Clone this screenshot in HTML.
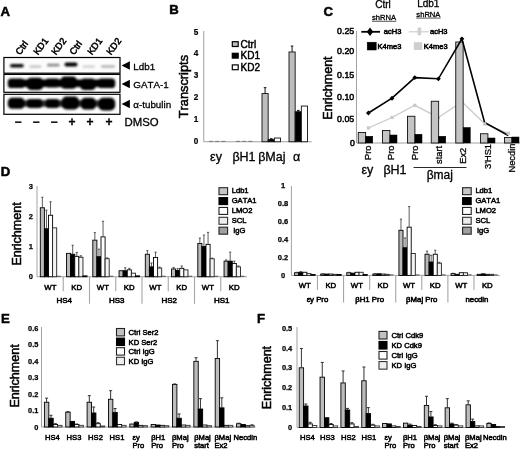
<!DOCTYPE html>
<html lang="en"><head><meta charset="utf-8"><title>Figure</title>
<style>
html,body{margin:0;padding:0;background:#fff;}
body{width:520px;height:449px;overflow:hidden;}
svg{display:block;font-family:"Liberation Sans",sans-serif;font-kerning:none;}
</style></head><body>
<svg width="520" height="449" viewBox="0 0 520 449">
<rect x="0" y="0" width="520" height="449" fill="#fff"/>
<text x="0.40" y="16.20" font-size="13.2" text-anchor="start" font-weight="bold" fill="#000" stroke="#000" stroke-width="0.5">A</text>
<text x="169.30" y="13.70" font-size="13.2" text-anchor="start" font-weight="bold" fill="#000" stroke="#000" stroke-width="0.5">B</text>
<text x="323.40" y="16.30" font-size="13.2" text-anchor="start" font-weight="bold" fill="#000" stroke="#000" stroke-width="0.5">C</text>
<text x="0.80" y="175.90" font-size="13.2" text-anchor="start" font-weight="bold" fill="#000" stroke="#000" stroke-width="0.5">D</text>
<text x="1.10" y="322.70" font-size="13.2" text-anchor="start" font-weight="bold" fill="#000" stroke="#000" stroke-width="0.5">E</text>
<text x="257.10" y="322.70" font-size="13.2" text-anchor="start" font-weight="bold" fill="#000" stroke="#000" stroke-width="0.5">F</text>
<defs><filter id="bl" x="-20%" y="-50%" width="140%" height="200%"><feGaussianBlur stdDeviation="1.1"/></filter><filter id="bl2" x="-20%" y="-50%" width="140%" height="200%"><feGaussianBlur stdDeviation="0.9"/></filter></defs>
<rect x="3.90" y="57.50" width="116.10" height="15.70" fill="#fcfcfc" stroke="#000" stroke-width="1.2"/>
<rect x="3.90" y="74.40" width="116.10" height="17.90" fill="#fcfcfc" stroke="#000" stroke-width="1.2"/>
<rect x="3.90" y="94.30" width="116.10" height="20.00" fill="#fcfcfc" stroke="#000" stroke-width="1.2"/>
<g filter="url(#bl)">
<rect x="10" y="64.10" width="13.80" height="3.4" rx="1.7" fill="#000" opacity="0.95"/>
<rect x="29.5" y="65.40" width="11.70" height="2.4" rx="1.2" fill="#000" opacity="0.25"/>
<rect x="47" y="63.80" width="12.50" height="2.8" rx="1.4" fill="#000" opacity="0.45"/>
<rect x="64.5" y="62.40" width="13.00" height="4.0" rx="2.0" fill="#000" opacity="1.0"/>
<rect x="82.5" y="65.40" width="12.50" height="2.4" rx="1.2" fill="#000" opacity="0.18"/>
<rect x="101" y="65.20" width="14.00" height="2.6" rx="1.3" fill="#000" opacity="0.3"/>
</g>
<g filter="url(#bl2)">
<rect x="10" y="79.6" width="103" height="7.4" rx="3" fill="#000"/>
<rect x="7.80" y="78.50" width="16.90" height="9.50" rx="3.61" fill="#000"/>
<rect x="26.40" y="77.80" width="17.20" height="12.20" rx="4.76" fill="#000"/>
<rect x="45.10" y="78.50" width="14.80" height="9.00" rx="3.40" fill="#000"/>
<rect x="60.15" y="76.50" width="17.20" height="12.20" rx="4.76" fill="#000"/>
<rect x="80.00" y="78.50" width="16.00" height="11.50" rx="4.46" fill="#000"/>
<rect x="97.80" y="78.50" width="17.40" height="9.50" rx="3.61" fill="#000"/>
<rect x="10" y="100.3" width="103" height="6.4" rx="3" fill="#000" opacity="0.8"/>
<rect x="7.80" y="97.75" width="16.90" height="11.00" rx="4.25" fill="#000"/>
<rect x="26.70" y="99.00" width="15.80" height="9.00" rx="3.40" fill="#000"/>
<rect x="45.40" y="99.00" width="14.20" height="9.00" rx="3.40" fill="#000"/>
<rect x="61.60" y="96.50" width="17.60" height="13.00" rx="5.10" fill="#000"/>
<rect x="80.80" y="97.70" width="15.20" height="11.80" rx="4.59" fill="#000"/>
<rect x="98.30" y="97.70" width="16.90" height="12.80" rx="5.02" fill="#000"/>
</g>
<text x="19.90" y="55.40" font-size="9.3" text-anchor="start" font-weight="normal" fill="#000" stroke="#000" stroke-width="0.5" transform="rotate(-53 19.90 55.40)">Ctrl</text>
<text x="37.90" y="55.40" font-size="9.3" text-anchor="start" font-weight="normal" fill="#000" stroke="#000" stroke-width="0.5" transform="rotate(-53 37.90 55.40)">KD1</text>
<text x="55.90" y="55.40" font-size="9.3" text-anchor="start" font-weight="normal" fill="#000" stroke="#000" stroke-width="0.5" transform="rotate(-53 55.90 55.40)">KD2</text>
<text x="73.90" y="55.40" font-size="9.3" text-anchor="start" font-weight="normal" fill="#000" stroke="#000" stroke-width="0.5" transform="rotate(-53 73.90 55.40)">Ctrl</text>
<text x="91.90" y="55.40" font-size="9.3" text-anchor="start" font-weight="normal" fill="#000" stroke="#000" stroke-width="0.5" transform="rotate(-53 91.90 55.40)">KD1</text>
<text x="110.90" y="55.40" font-size="9.3" text-anchor="start" font-weight="normal" fill="#000" stroke="#000" stroke-width="0.5" transform="rotate(-53 110.90 55.40)">KD2</text>
<text x="18.00" y="126.00" font-size="12" text-anchor="middle" font-weight="bold" fill="#000" stroke="#000" stroke-width="0.3">−</text>
<text x="36.00" y="126.00" font-size="12" text-anchor="middle" font-weight="bold" fill="#000" stroke="#000" stroke-width="0.3">−</text>
<text x="54.00" y="126.00" font-size="12" text-anchor="middle" font-weight="bold" fill="#000" stroke="#000" stroke-width="0.3">−</text>
<text x="72.00" y="126.00" font-size="12" text-anchor="middle" font-weight="bold" fill="#000" stroke="#000" stroke-width="0.3">+</text>
<text x="90.00" y="126.00" font-size="12" text-anchor="middle" font-weight="bold" fill="#000" stroke="#000" stroke-width="0.3">+</text>
<text x="109.00" y="126.00" font-size="12" text-anchor="middle" font-weight="bold" fill="#000" stroke="#000" stroke-width="0.3">+</text>
<polygon points="121.6,65.5 129.9,61.3 129.9,69.7" fill="#000"/>
<text x="133.30" y="69.60" font-size="9.8" text-anchor="start" font-weight="normal" fill="#000" stroke="#000" stroke-width="0.3">Ldb1</text>
<polygon points="121.6,84 129.9,79.8 129.9,88.2" fill="#000"/>
<text x="133.30" y="88.10" font-size="9.8" text-anchor="start" font-weight="normal" fill="#000" stroke="#000" stroke-width="0.3">GATA-1</text>
<polygon points="121.6,104 129.9,99.8 129.9,108.2" fill="#000"/>
<text x="133.30" y="108.10" font-size="9.8" text-anchor="start" font-weight="normal" fill="#000" stroke="#000" stroke-width="0.3">α-tubulin</text>
<text x="124.50" y="125.60" font-size="11.4" text-anchor="start" font-weight="normal" fill="#000" stroke="#000" stroke-width="0.3">DMSO</text>
<line x1="203.75" y1="31.00" x2="203.75" y2="141.75" stroke="#8a8a8a" stroke-width="0.8"/>
<line x1="203.75" y1="141.75" x2="311.75" y2="141.75" stroke="#8a8a8a" stroke-width="0.8"/>
<text x="198.20" y="143.75" font-size="8.2" text-anchor="end" font-weight="bold" fill="#000" stroke="#000" stroke-width="0.2">0</text>
<text x="198.20" y="121.85" font-size="8.2" text-anchor="end" font-weight="bold" fill="#000" stroke="#000" stroke-width="0.2">1</text>
<text x="198.20" y="99.95" font-size="8.2" text-anchor="end" font-weight="bold" fill="#000" stroke="#000" stroke-width="0.2">2</text>
<text x="198.20" y="78.05" font-size="8.2" text-anchor="end" font-weight="bold" fill="#000" stroke="#000" stroke-width="0.2">3</text>
<text x="198.20" y="56.15" font-size="8.2" text-anchor="end" font-weight="bold" fill="#000" stroke="#000" stroke-width="0.2">4</text>
<text x="198.20" y="34.85" font-size="8.2" text-anchor="end" font-weight="bold" fill="#000" stroke="#000" stroke-width="0.2">5</text>
<text x="187.80" y="86.60" font-size="12.8" text-anchor="middle" font-weight="normal" fill="#000" stroke="#000" stroke-width="0.5" transform="rotate(-90 187.80 86.60)">Transcripts</text>
<line x1="209.00" y1="141.35" x2="213.17" y2="141.35" stroke="#666" stroke-width="0.8"/>
<line x1="215.17" y1="141.35" x2="219.34" y2="141.35" stroke="#666" stroke-width="0.8"/>
<line x1="221.34" y1="141.35" x2="225.51" y2="141.35" stroke="#666" stroke-width="0.8"/>
<line x1="236.00" y1="141.35" x2="240.17" y2="141.35" stroke="#666" stroke-width="0.8"/>
<line x1="242.17" y1="141.35" x2="246.34" y2="141.35" stroke="#666" stroke-width="0.8"/>
<line x1="248.34" y1="141.35" x2="252.51" y2="141.35" stroke="#666" stroke-width="0.8"/>
<rect x="262.00" y="93.57" width="6.17" height="48.18" fill="#bdbdbd" stroke="#111" stroke-width="0.9"/>
<line x1="265.08" y1="87.66" x2="265.08" y2="93.57" stroke="#111" stroke-width="1.0"/>
<line x1="263.78" y1="87.66" x2="266.38" y2="87.66" stroke="#111" stroke-width="1.0"/>
<rect x="268.17" y="139.56" width="6.17" height="2.19" fill="#000" stroke="#111" stroke-width="0.9"/>
<line x1="271.25" y1="138.68" x2="271.25" y2="139.56" stroke="#111" stroke-width="1.0"/>
<line x1="269.95" y1="138.68" x2="272.56" y2="138.68" stroke="#111" stroke-width="1.0"/>
<rect x="274.34" y="138.03" width="6.17" height="3.72" fill="#fff" stroke="#111" stroke-width="0.9"/>
<rect x="289.00" y="51.96" width="6.17" height="89.79" fill="#bdbdbd" stroke="#111" stroke-width="0.9"/>
<line x1="292.08" y1="46.05" x2="292.08" y2="51.96" stroke="#111" stroke-width="1.0"/>
<line x1="290.78" y1="46.05" x2="293.38" y2="46.05" stroke="#111" stroke-width="1.0"/>
<rect x="295.17" y="111.75" width="6.17" height="30.00" fill="#000" stroke="#111" stroke-width="0.9"/>
<line x1="298.25" y1="110.43" x2="298.25" y2="111.75" stroke="#111" stroke-width="1.0"/>
<line x1="296.95" y1="110.43" x2="299.56" y2="110.43" stroke="#111" stroke-width="1.0"/>
<rect x="301.34" y="106.05" width="6.17" height="35.70" fill="#fff" stroke="#111" stroke-width="0.9"/>
<text x="216.00" y="161.30" font-size="12.5" text-anchor="middle" font-weight="normal" fill="#000" stroke="#000" stroke-width="0.3">εy</text>
<text x="244.00" y="161.30" font-size="12.5" text-anchor="middle" font-weight="normal" fill="#000" stroke="#000" stroke-width="0.3">βH1</text>
<text x="271.80" y="161.30" font-size="12.5" text-anchor="middle" font-weight="normal" fill="#000" stroke="#000" stroke-width="0.3">βMaj</text>
<text x="296.50" y="161.30" font-size="12.5" text-anchor="middle" font-weight="normal" fill="#000" stroke="#000" stroke-width="0.3">α</text>
<rect x="232.30" y="41.70" width="5.90" height="4.80" fill="#bdbdbd" stroke="#000" stroke-width="1.2"/>
<text x="240.60" y="47.60" font-size="10" text-anchor="start" font-weight="normal" fill="#000" stroke="#000" stroke-width="0.45">Ctrl</text>
<rect x="232.30" y="53.30" width="5.90" height="4.80" fill="#000" stroke="#000" stroke-width="1.2"/>
<text x="240.60" y="59.20" font-size="10" text-anchor="start" font-weight="normal" fill="#000" stroke="#000" stroke-width="0.45">KD1</text>
<rect x="232.30" y="64.90" width="5.90" height="4.80" fill="#fff" stroke="#000" stroke-width="1.2"/>
<text x="240.60" y="70.80" font-size="10" text-anchor="start" font-weight="normal" fill="#000" stroke="#000" stroke-width="0.45">KD2</text>
<line x1="356.50" y1="31.00" x2="356.50" y2="143.00" stroke="#8a8a8a" stroke-width="0.8"/>
<line x1="356.50" y1="143.00" x2="520.00" y2="143.00" stroke="#8a8a8a" stroke-width="0.8"/>
<text x="355.00" y="145.60" font-size="8.8" text-anchor="end" font-weight="normal" fill="#000" stroke="#000" stroke-width="0.5">0</text>
<text x="354.20" y="121.60" font-size="8.8" text-anchor="end" font-weight="normal" fill="#000" stroke="#000" stroke-width="0.5">0.05</text>
<text x="354.20" y="100.25" font-size="8.8" text-anchor="end" font-weight="normal" fill="#000" stroke="#000" stroke-width="0.5">0.10</text>
<text x="354.20" y="78.40" font-size="8.8" text-anchor="end" font-weight="normal" fill="#000" stroke="#000" stroke-width="0.5">0.15</text>
<text x="354.20" y="54.40" font-size="8.8" text-anchor="end" font-weight="normal" fill="#000" stroke="#000" stroke-width="0.5">0.20</text>
<text x="354.20" y="33.60" font-size="8.8" text-anchor="end" font-weight="normal" fill="#000" stroke="#000" stroke-width="0.5">0.25</text>
<text x="332.00" y="88.00" font-size="12.5" text-anchor="middle" font-weight="normal" fill="#000" stroke="#000" stroke-width="0.5" transform="rotate(-90 332.00 88.00)">Enrichment</text>
<polyline points="368.4,128.0 392.0,117.5 414.8,105.3 438.4,117.5 461.9,101.8 484.6,123.8 508.3,133.3" fill="none" stroke="#c9c9c9" stroke-width="1.3"/>
<rect x="366.8" y="126.4" width="3.2" height="3.2" fill="#c9c9c9"/>
<rect x="390.4" y="115.9" width="3.2" height="3.2" fill="#c9c9c9"/>
<rect x="413.2" y="103.7" width="3.2" height="3.2" fill="#c9c9c9"/>
<rect x="436.8" y="115.9" width="3.2" height="3.2" fill="#c9c9c9"/>
<rect x="460.3" y="100.2" width="3.2" height="3.2" fill="#c9c9c9"/>
<rect x="483.0" y="122.2" width="3.2" height="3.2" fill="#c9c9c9"/>
<rect x="506.7" y="131.7" width="3.2" height="3.2" fill="#c9c9c9"/>
<rect x="358.25" y="132.50" width="7.40" height="10.50" fill="#c4c4c4" stroke="#111" stroke-width="0.9"/>
<rect x="365.65" y="136.25" width="7.10" height="6.75" fill="#000" stroke="#000" stroke-width="0.5"/>
<rect x="382.50" y="130.50" width="7.40" height="12.50" fill="#c4c4c4" stroke="#111" stroke-width="0.9"/>
<rect x="389.90" y="135.00" width="7.10" height="8.00" fill="#000" stroke="#000" stroke-width="0.5"/>
<rect x="407.50" y="116.25" width="7.40" height="26.75" fill="#c4c4c4" stroke="#111" stroke-width="0.9"/>
<rect x="414.90" y="134.25" width="7.10" height="8.75" fill="#000" stroke="#000" stroke-width="0.5"/>
<rect x="431.25" y="101.25" width="7.40" height="41.75" fill="#c4c4c4" stroke="#111" stroke-width="0.9"/>
<rect x="438.65" y="136.25" width="7.10" height="6.75" fill="#000" stroke="#000" stroke-width="0.5"/>
<rect x="455.75" y="42.00" width="7.40" height="101.00" fill="#c4c4c4" stroke="#111" stroke-width="0.9"/>
<rect x="463.15" y="127.50" width="7.10" height="15.50" fill="#000" stroke="#000" stroke-width="0.5"/>
<rect x="480.50" y="133.75" width="7.40" height="9.25" fill="#c4c4c4" stroke="#111" stroke-width="0.9"/>
<rect x="487.90" y="138.00" width="7.10" height="5.00" fill="#000" stroke="#000" stroke-width="0.5"/>
<rect x="504.50" y="137.50" width="7.40" height="5.50" fill="#c4c4c4" stroke="#111" stroke-width="0.9"/>
<rect x="511.90" y="137.00" width="7.10" height="6.00" fill="#000" stroke="#000" stroke-width="0.5"/>
<polyline points="368.4,113.0 392.0,98.2 414.8,77.6 438.4,78.8 461.9,38.8 484.6,122.5 508.3,135.5" fill="none" stroke="#000" stroke-width="1.6"/>
<polygon points="366.0,113.0 368.4,110.6 370.8,113.0 368.4,115.4" fill="#000"/>
<polygon points="389.6,98.2 392.0,95.8 394.4,98.2 392.0,100.7" fill="#000"/>
<polygon points="412.4,77.6 414.8,75.2 417.2,77.6 414.8,80.0" fill="#000"/>
<polygon points="436.0,78.8 438.4,76.4 440.8,78.8 438.4,81.2" fill="#000"/>
<polygon points="459.5,38.8 461.9,36.4 464.3,38.8 461.9,41.2" fill="#000"/>
<rect x="483.0" y="122.2" width="3.2" height="3.2" fill="#c9c9c9"/>
<rect x="506.7" y="131.7" width="3.2" height="3.2" fill="#c9c9c9"/>
<text x="371.30" y="160.00" font-size="9.3" text-anchor="start" font-weight="normal" fill="#000" stroke="#000" stroke-width="0.3" transform="rotate(-90 371.30 160.00)">Pro</text>
<text x="394.20" y="160.00" font-size="9.3" text-anchor="start" font-weight="normal" fill="#000" stroke="#000" stroke-width="0.3" transform="rotate(-90 394.20 160.00)">Pro</text>
<text x="417.80" y="160.00" font-size="9.3" text-anchor="start" font-weight="normal" fill="#000" stroke="#000" stroke-width="0.3" transform="rotate(-90 417.80 160.00)">Pro</text>
<text x="442.20" y="164.00" font-size="9.3" text-anchor="start" font-weight="normal" fill="#000" stroke="#000" stroke-width="0.3" transform="rotate(-90 442.20 164.00)">start</text>
<text x="466.00" y="163.80" font-size="9.3" text-anchor="start" font-weight="normal" fill="#000" stroke="#000" stroke-width="0.3" transform="rotate(-90 466.00 163.80)">Ex2</text>
<text x="490.70" y="169.00" font-size="9.3" text-anchor="start" font-weight="normal" fill="#000" stroke="#000" stroke-width="0.3" transform="rotate(-90 490.70 169.00)">3'HS1</text>
<text x="514.70" y="172.50" font-size="9.3" text-anchor="start" font-weight="normal" fill="#000" stroke="#000" stroke-width="0.3" transform="rotate(-90 514.70 172.50)">Necdin</text>
<text x="367.30" y="174.00" font-size="12.5" text-anchor="middle" font-weight="normal" fill="#000" stroke="#000" stroke-width="0.3">εy</text>
<text x="395.00" y="174.00" font-size="12.5" text-anchor="middle" font-weight="normal" fill="#000" stroke="#000" stroke-width="0.3">βH1</text>
<line x1="413.50" y1="167.50" x2="466.50" y2="167.50" stroke="#111" stroke-width="0.9"/>
<text x="439.80" y="179.00" font-size="12" text-anchor="middle" font-weight="normal" fill="#000" stroke="#000" stroke-width="0.3">βmaj</text>
<text x="383.00" y="7.60" font-size="10" text-anchor="middle" font-weight="normal" fill="#000" stroke="#000" stroke-width="0.3">Ctrl</text>
<text x="428.30" y="7.30" font-size="10" text-anchor="middle" font-weight="normal" fill="#000" stroke="#000" stroke-width="0.3">Ldb1</text>
<text x="384.00" y="20.00" font-size="7.6" text-anchor="middle" font-weight="normal" fill="#000" stroke="#000" stroke-width="0.3">shRNA</text>
<line x1="372.00" y1="21.30" x2="396.30" y2="21.30" stroke="#111" stroke-width="0.7"/>
<text x="428.40" y="16.80" font-size="7.6" text-anchor="middle" font-weight="normal" fill="#000" stroke="#000" stroke-width="0.3">shRNA</text>
<line x1="416.20" y1="18.10" x2="440.60" y2="18.10" stroke="#111" stroke-width="0.7"/>
<line x1="361.30" y1="31.80" x2="380.00" y2="31.80" stroke="#000" stroke-width="1.8"/>
<polygon points="366.8,31.8 370,27.6 373.2,31.8 370,36" fill="#000"/>
<text x="383.80" y="34.40" font-size="7.5" text-anchor="start" font-weight="normal" fill="#000" stroke="#000" stroke-width="0.55">acH3</text>
<rect x="367.20" y="42.20" width="9.00" height="7.80" fill="#000" stroke="#000" stroke-width="0.5"/>
<text x="377.60" y="49.00" font-size="7.5" text-anchor="start" font-weight="normal" fill="#000" stroke="#000" stroke-width="0.55">K4me3</text>
<line x1="408.80" y1="31.80" x2="428.80" y2="31.80" stroke="#cfcfcf" stroke-width="1.2"/>
<rect x="417.6" y="27.6" width="3.6" height="7.6" fill="#cfcfcf"/>
<text x="430.00" y="34.40" font-size="7.5" text-anchor="start" font-weight="normal" fill="#000" stroke="#000" stroke-width="0.55">acH3</text>
<rect x="413.8" y="42.2" width="8.4" height="7.8" fill="#cfcfcf"/>
<text x="423.80" y="49.00" font-size="7.5" text-anchor="start" font-weight="normal" fill="#000" stroke="#000" stroke-width="0.55">K4me3</text>
<line x1="37.00" y1="186.00" x2="37.00" y2="276.75" stroke="#8a8a8a" stroke-width="0.8"/>
<line x1="37.00" y1="276.75" x2="247.00" y2="276.75" stroke="#8a8a8a" stroke-width="0.8"/>
<text x="33.00" y="279.25" font-size="7.5" text-anchor="end" font-weight="bold" fill="#000" stroke="#000" stroke-width="0.25">0</text>
<text x="33.00" y="249.25" font-size="7.5" text-anchor="end" font-weight="bold" fill="#000" stroke="#000" stroke-width="0.25">1</text>
<text x="33.00" y="219.25" font-size="7.5" text-anchor="end" font-weight="bold" fill="#000" stroke="#000" stroke-width="0.25">2</text>
<text x="33.00" y="189.25" font-size="7.5" text-anchor="end" font-weight="bold" fill="#000" stroke="#000" stroke-width="0.25">3</text>
<text x="20.70" y="234.00" font-size="12.5" text-anchor="middle" font-weight="normal" fill="#000" stroke="#000" stroke-width="0.5" transform="rotate(-90 20.70 234.00)">Enrichment</text>
<rect x="40.30" y="207.75" width="4.10" height="69.00" fill="#b9b9b9" stroke="#000" stroke-width="0.9"/>
<line x1="42.35" y1="197.25" x2="42.35" y2="207.75" stroke="#333" stroke-width="0.8"/>
<line x1="41.25" y1="197.25" x2="43.45" y2="197.25" stroke="#333" stroke-width="0.8"/>
<rect x="44.40" y="228.75" width="4.10" height="48.00" fill="#000" stroke="#000" stroke-width="0.9"/>
<line x1="46.45" y1="210.15" x2="46.45" y2="228.75" stroke="#333" stroke-width="0.8"/>
<line x1="45.35" y1="210.15" x2="47.55" y2="210.15" stroke="#333" stroke-width="0.8"/>
<rect x="48.50" y="215.25" width="4.10" height="61.50" fill="#fff" stroke="#000" stroke-width="0.9"/>
<line x1="50.55" y1="201.75" x2="50.55" y2="215.25" stroke="#333" stroke-width="0.8"/>
<line x1="49.45" y1="201.75" x2="51.65" y2="201.75" stroke="#333" stroke-width="0.8"/>
<rect x="52.60" y="227.85" width="4.10" height="48.90" fill="#f4f4f4" stroke="#222" stroke-width="0.9"/>
<line x1="56.70" y1="276.25" x2="60.80" y2="276.25" stroke="#444" stroke-width="0.9"/>
<rect x="66.55" y="253.35" width="4.10" height="23.40" fill="#b9b9b9" stroke="#000" stroke-width="0.9"/>
<rect x="70.65" y="254.25" width="4.10" height="22.50" fill="#000" stroke="#000" stroke-width="0.9"/>
<line x1="72.70" y1="245.25" x2="72.70" y2="254.25" stroke="#333" stroke-width="0.8"/>
<line x1="71.60" y1="245.25" x2="73.80" y2="245.25" stroke="#333" stroke-width="0.8"/>
<rect x="74.75" y="256.35" width="4.10" height="20.40" fill="#fff" stroke="#000" stroke-width="0.9"/>
<line x1="76.80" y1="252.45" x2="76.80" y2="256.35" stroke="#333" stroke-width="0.8"/>
<line x1="75.70" y1="252.45" x2="77.90" y2="252.45" stroke="#333" stroke-width="0.8"/>
<rect x="78.85" y="257.25" width="4.10" height="19.50" fill="#f4f4f4" stroke="#222" stroke-width="0.9"/>
<line x1="80.90" y1="255.75" x2="80.90" y2="257.25" stroke="#333" stroke-width="0.8"/>
<line x1="79.80" y1="255.75" x2="82.00" y2="255.75" stroke="#333" stroke-width="0.8"/>
<rect x="82.95" y="275.85" width="4.10" height="0.90" fill="#9a9a9a" stroke="#000" stroke-width="0.9"/>
<rect x="92.80" y="240.15" width="4.10" height="36.60" fill="#b9b9b9" stroke="#000" stroke-width="0.9"/>
<line x1="94.85" y1="232.65" x2="94.85" y2="240.15" stroke="#333" stroke-width="0.8"/>
<line x1="93.75" y1="232.65" x2="95.95" y2="232.65" stroke="#333" stroke-width="0.8"/>
<rect x="96.90" y="256.65" width="4.10" height="20.10" fill="#000" stroke="#000" stroke-width="0.9"/>
<line x1="98.95" y1="249.15" x2="98.95" y2="256.65" stroke="#333" stroke-width="0.8"/>
<line x1="97.85" y1="249.15" x2="100.05" y2="249.15" stroke="#333" stroke-width="0.8"/>
<rect x="101.00" y="236.85" width="4.10" height="39.90" fill="#fff" stroke="#000" stroke-width="0.9"/>
<line x1="103.05" y1="221.25" x2="103.05" y2="236.85" stroke="#333" stroke-width="0.8"/>
<line x1="101.95" y1="221.25" x2="104.15" y2="221.25" stroke="#333" stroke-width="0.8"/>
<rect x="105.10" y="258.75" width="4.10" height="18.00" fill="#f4f4f4" stroke="#222" stroke-width="0.9"/>
<line x1="107.15" y1="257.85" x2="107.15" y2="258.75" stroke="#333" stroke-width="0.8"/>
<line x1="106.05" y1="257.85" x2="108.25" y2="257.85" stroke="#333" stroke-width="0.8"/>
<line x1="109.20" y1="276.25" x2="113.30" y2="276.25" stroke="#444" stroke-width="0.9"/>
<rect x="119.05" y="270.75" width="4.10" height="6.00" fill="#b9b9b9" stroke="#000" stroke-width="0.9"/>
<rect x="123.15" y="270.75" width="4.10" height="6.00" fill="#000" stroke="#000" stroke-width="0.9"/>
<line x1="125.20" y1="267.75" x2="125.20" y2="270.75" stroke="#333" stroke-width="0.8"/>
<line x1="124.10" y1="267.75" x2="126.30" y2="267.75" stroke="#333" stroke-width="0.8"/>
<rect x="127.25" y="269.85" width="4.10" height="6.90" fill="#fff" stroke="#000" stroke-width="0.9"/>
<line x1="129.30" y1="268.35" x2="129.30" y2="269.85" stroke="#333" stroke-width="0.8"/>
<line x1="128.20" y1="268.35" x2="130.40" y2="268.35" stroke="#333" stroke-width="0.8"/>
<rect x="131.35" y="273.15" width="4.10" height="3.60" fill="#f4f4f4" stroke="#222" stroke-width="0.9"/>
<rect x="135.45" y="275.85" width="4.10" height="0.90" fill="#9a9a9a" stroke="#000" stroke-width="0.9"/>
<rect x="145.30" y="254.25" width="4.10" height="22.50" fill="#b9b9b9" stroke="#000" stroke-width="0.9"/>
<line x1="147.35" y1="250.65" x2="147.35" y2="254.25" stroke="#333" stroke-width="0.8"/>
<line x1="146.25" y1="250.65" x2="148.45" y2="250.65" stroke="#333" stroke-width="0.8"/>
<rect x="149.40" y="266.85" width="4.10" height="9.90" fill="#000" stroke="#000" stroke-width="0.9"/>
<line x1="151.45" y1="262.95" x2="151.45" y2="266.85" stroke="#333" stroke-width="0.8"/>
<line x1="150.35" y1="262.95" x2="152.55" y2="262.95" stroke="#333" stroke-width="0.8"/>
<rect x="153.50" y="257.55" width="4.10" height="19.20" fill="#fff" stroke="#000" stroke-width="0.9"/>
<line x1="155.55" y1="252.15" x2="155.55" y2="257.55" stroke="#333" stroke-width="0.8"/>
<line x1="154.45" y1="252.15" x2="156.65" y2="252.15" stroke="#333" stroke-width="0.8"/>
<rect x="157.60" y="268.05" width="4.10" height="8.70" fill="#f4f4f4" stroke="#222" stroke-width="0.9"/>
<line x1="159.65" y1="267.15" x2="159.65" y2="268.05" stroke="#333" stroke-width="0.8"/>
<line x1="158.55" y1="267.15" x2="160.75" y2="267.15" stroke="#333" stroke-width="0.8"/>
<line x1="161.70" y1="276.25" x2="165.80" y2="276.25" stroke="#444" stroke-width="0.9"/>
<rect x="171.55" y="268.95" width="4.10" height="7.80" fill="#b9b9b9" stroke="#000" stroke-width="0.9"/>
<line x1="173.60" y1="267.45" x2="173.60" y2="268.95" stroke="#333" stroke-width="0.8"/>
<line x1="172.50" y1="267.45" x2="174.70" y2="267.45" stroke="#333" stroke-width="0.8"/>
<rect x="175.65" y="270.45" width="4.10" height="6.30" fill="#000" stroke="#000" stroke-width="0.9"/>
<line x1="177.70" y1="268.65" x2="177.70" y2="270.45" stroke="#333" stroke-width="0.8"/>
<line x1="176.60" y1="268.65" x2="178.80" y2="268.65" stroke="#333" stroke-width="0.8"/>
<rect x="179.75" y="268.35" width="4.10" height="8.40" fill="#fff" stroke="#000" stroke-width="0.9"/>
<line x1="181.80" y1="265.95" x2="181.80" y2="268.35" stroke="#333" stroke-width="0.8"/>
<line x1="180.70" y1="265.95" x2="182.90" y2="265.95" stroke="#333" stroke-width="0.8"/>
<rect x="183.85" y="269.85" width="4.10" height="6.90" fill="#f4f4f4" stroke="#222" stroke-width="0.9"/>
<line x1="187.95" y1="276.25" x2="192.05" y2="276.25" stroke="#444" stroke-width="0.9"/>
<rect x="197.80" y="243.45" width="4.10" height="33.30" fill="#b9b9b9" stroke="#000" stroke-width="0.9"/>
<line x1="199.85" y1="238.05" x2="199.85" y2="243.45" stroke="#333" stroke-width="0.8"/>
<line x1="198.75" y1="238.05" x2="200.95" y2="238.05" stroke="#333" stroke-width="0.8"/>
<rect x="201.90" y="246.45" width="4.10" height="30.30" fill="#000" stroke="#000" stroke-width="0.9"/>
<line x1="203.95" y1="235.05" x2="203.95" y2="246.45" stroke="#333" stroke-width="0.8"/>
<line x1="202.85" y1="235.05" x2="205.05" y2="235.05" stroke="#333" stroke-width="0.8"/>
<rect x="206.00" y="244.35" width="4.10" height="32.40" fill="#fff" stroke="#000" stroke-width="0.9"/>
<line x1="208.05" y1="232.35" x2="208.05" y2="244.35" stroke="#333" stroke-width="0.8"/>
<line x1="206.95" y1="232.35" x2="209.15" y2="232.35" stroke="#333" stroke-width="0.8"/>
<rect x="210.10" y="258.75" width="4.10" height="18.00" fill="#f4f4f4" stroke="#222" stroke-width="0.9"/>
<line x1="212.15" y1="258.15" x2="212.15" y2="258.75" stroke="#333" stroke-width="0.8"/>
<line x1="211.05" y1="258.15" x2="213.25" y2="258.15" stroke="#333" stroke-width="0.8"/>
<line x1="214.20" y1="276.25" x2="218.30" y2="276.25" stroke="#444" stroke-width="0.9"/>
<rect x="224.05" y="261.15" width="4.10" height="15.60" fill="#b9b9b9" stroke="#000" stroke-width="0.9"/>
<line x1="226.10" y1="259.95" x2="226.10" y2="261.15" stroke="#333" stroke-width="0.8"/>
<line x1="225.00" y1="259.95" x2="227.20" y2="259.95" stroke="#333" stroke-width="0.8"/>
<rect x="228.15" y="261.15" width="4.10" height="15.60" fill="#000" stroke="#000" stroke-width="0.9"/>
<line x1="230.20" y1="252.15" x2="230.20" y2="261.15" stroke="#333" stroke-width="0.8"/>
<line x1="229.10" y1="252.15" x2="231.30" y2="252.15" stroke="#333" stroke-width="0.8"/>
<rect x="232.25" y="263.55" width="4.10" height="13.20" fill="#fff" stroke="#000" stroke-width="0.9"/>
<line x1="234.30" y1="261.15" x2="234.30" y2="263.55" stroke="#333" stroke-width="0.8"/>
<line x1="233.20" y1="261.15" x2="235.40" y2="261.15" stroke="#333" stroke-width="0.8"/>
<rect x="236.35" y="266.85" width="4.10" height="9.90" fill="#f4f4f4" stroke="#222" stroke-width="0.9"/>
<line x1="238.40" y1="265.95" x2="238.40" y2="266.85" stroke="#333" stroke-width="0.8"/>
<line x1="237.30" y1="265.95" x2="239.50" y2="265.95" stroke="#333" stroke-width="0.8"/>
<line x1="240.45" y1="276.25" x2="244.55" y2="276.25" stroke="#444" stroke-width="0.9"/>
<line x1="63.25" y1="276.75" x2="63.25" y2="291.30" stroke="#a6a6a6" stroke-width="1.1"/>
<line x1="89.50" y1="276.75" x2="89.50" y2="303.80" stroke="#a6a6a6" stroke-width="1.1"/>
<line x1="115.75" y1="276.75" x2="115.75" y2="291.30" stroke="#a6a6a6" stroke-width="1.1"/>
<line x1="142.00" y1="276.75" x2="142.00" y2="303.80" stroke="#a6a6a6" stroke-width="1.1"/>
<line x1="168.25" y1="276.75" x2="168.25" y2="291.30" stroke="#a6a6a6" stroke-width="1.1"/>
<line x1="194.50" y1="276.75" x2="194.50" y2="303.80" stroke="#a6a6a6" stroke-width="1.1"/>
<line x1="220.75" y1="276.75" x2="220.75" y2="291.30" stroke="#a6a6a6" stroke-width="1.1"/>
<text x="50.42" y="290.00" font-size="7.8" text-anchor="middle" font-weight="normal" fill="#000" stroke="#000" stroke-width="0.5">WT</text>
<text x="76.67" y="290.00" font-size="7.8" text-anchor="middle" font-weight="normal" fill="#000" stroke="#000" stroke-width="0.5">KD</text>
<text x="102.92" y="290.00" font-size="7.8" text-anchor="middle" font-weight="normal" fill="#000" stroke="#000" stroke-width="0.5">WT</text>
<text x="129.18" y="290.00" font-size="7.8" text-anchor="middle" font-weight="normal" fill="#000" stroke="#000" stroke-width="0.5">KD</text>
<text x="155.43" y="290.00" font-size="7.8" text-anchor="middle" font-weight="normal" fill="#000" stroke="#000" stroke-width="0.5">WT</text>
<text x="181.68" y="290.00" font-size="7.8" text-anchor="middle" font-weight="normal" fill="#000" stroke="#000" stroke-width="0.5">KD</text>
<text x="207.93" y="290.00" font-size="7.8" text-anchor="middle" font-weight="normal" fill="#000" stroke="#000" stroke-width="0.5">WT</text>
<text x="234.18" y="290.00" font-size="7.8" text-anchor="middle" font-weight="normal" fill="#000" stroke="#000" stroke-width="0.5">KD</text>
<text x="64.25" y="303.00" font-size="8" text-anchor="middle" font-weight="normal" fill="#000" stroke="#000" stroke-width="0.55">HS4</text>
<text x="116.75" y="303.00" font-size="8" text-anchor="middle" font-weight="normal" fill="#000" stroke="#000" stroke-width="0.55">HS3</text>
<text x="169.25" y="303.00" font-size="8" text-anchor="middle" font-weight="normal" fill="#000" stroke="#000" stroke-width="0.55">HS2</text>
<text x="221.75" y="303.00" font-size="8" text-anchor="middle" font-weight="normal" fill="#000" stroke="#000" stroke-width="0.55">HS1</text>
<rect x="219.00" y="187.70" width="8.60" height="7.00" fill="#c6c6c6" stroke="#222" stroke-width="1.1"/>
<text x="231.70" y="193.30" font-size="7.6" text-anchor="start" font-weight="normal" fill="#000" stroke="#000" stroke-width="0.5">Ldb1</text>
<rect x="219.00" y="197.57" width="8.60" height="7.00" fill="#000" stroke="#000" stroke-width="1.1"/>
<text x="231.70" y="203.30" font-size="7.6" text-anchor="start" font-weight="normal" fill="#000" stroke="#000" stroke-width="0.5">GATA1</text>
<rect x="219.00" y="207.44" width="8.60" height="7.00" fill="#fff" stroke="#222" stroke-width="1.1"/>
<text x="231.70" y="213.30" font-size="7.6" text-anchor="start" font-weight="normal" fill="#000" stroke="#000" stroke-width="0.5">LMO2</text>
<rect x="219.00" y="217.31" width="8.60" height="7.00" fill="#ececec" stroke="#333" stroke-width="1.1"/>
<text x="231.70" y="223.30" font-size="7.6" text-anchor="start" font-weight="normal" fill="#000" stroke="#000" stroke-width="0.5">SCL</text>
<rect x="219.00" y="227.18" width="8.60" height="7.00" fill="#a0a0a0" stroke="#222" stroke-width="1.1"/>
<text x="233.20" y="233.30" font-size="7.6" text-anchor="start" font-weight="normal" fill="#000" stroke="#000" stroke-width="0.5">IgG</text>
<line x1="291.40" y1="186.00" x2="291.40" y2="275.40" stroke="#8a8a8a" stroke-width="0.8"/>
<line x1="291.40" y1="275.40" x2="500.00" y2="275.40" stroke="#8a8a8a" stroke-width="0.8"/>
<text x="283.00" y="277.70" font-size="7.5" text-anchor="middle" font-weight="bold" fill="#000" stroke="#000" stroke-width="0.25">0</text>
<text x="283.00" y="259.84" font-size="7.5" text-anchor="middle" font-weight="bold" fill="#000" stroke="#000" stroke-width="0.25">0.2</text>
<text x="283.00" y="241.98" font-size="7.5" text-anchor="middle" font-weight="bold" fill="#000" stroke="#000" stroke-width="0.25">0.4</text>
<text x="283.00" y="224.12" font-size="7.5" text-anchor="middle" font-weight="bold" fill="#000" stroke="#000" stroke-width="0.25">0.6</text>
<text x="283.00" y="206.26" font-size="7.5" text-anchor="middle" font-weight="bold" fill="#000" stroke="#000" stroke-width="0.25">0.8</text>
<text x="283.00" y="188.40" font-size="7.5" text-anchor="middle" font-weight="bold" fill="#000" stroke="#000" stroke-width="0.25">1</text>
<rect x="294.60" y="272.72" width="4.10" height="2.68" fill="#b9b9b9" stroke="#000" stroke-width="0.9"/>
<line x1="296.65" y1="272.27" x2="296.65" y2="272.72" stroke="#333" stroke-width="0.8"/>
<line x1="295.55" y1="272.27" x2="297.75" y2="272.27" stroke="#333" stroke-width="0.8"/>
<rect x="298.70" y="272.27" width="4.10" height="3.13" fill="#000" stroke="#000" stroke-width="0.9"/>
<line x1="300.75" y1="271.56" x2="300.75" y2="272.27" stroke="#333" stroke-width="0.8"/>
<line x1="299.65" y1="271.56" x2="301.85" y2="271.56" stroke="#333" stroke-width="0.8"/>
<rect x="302.80" y="272.27" width="4.10" height="3.13" fill="#fff" stroke="#000" stroke-width="0.9"/>
<rect x="306.90" y="273.61" width="4.10" height="1.79" fill="#f4f4f4" stroke="#222" stroke-width="0.9"/>
<rect x="311.00" y="274.51" width="4.10" height="0.89" fill="#9a9a9a" stroke="#000" stroke-width="0.9"/>
<rect x="320.68" y="274.06" width="4.10" height="1.34" fill="#b9b9b9" stroke="#000" stroke-width="0.9"/>
<line x1="322.73" y1="273.70" x2="322.73" y2="274.06" stroke="#333" stroke-width="0.8"/>
<line x1="321.63" y1="273.70" x2="323.83" y2="273.70" stroke="#333" stroke-width="0.8"/>
<rect x="324.78" y="274.06" width="4.10" height="1.34" fill="#000" stroke="#000" stroke-width="0.9"/>
<rect x="328.88" y="274.06" width="4.10" height="1.34" fill="#fff" stroke="#000" stroke-width="0.9"/>
<rect x="332.98" y="274.33" width="4.10" height="1.07" fill="#f4f4f4" stroke="#222" stroke-width="0.9"/>
<rect x="337.08" y="274.51" width="4.10" height="0.89" fill="#9a9a9a" stroke="#000" stroke-width="0.9"/>
<rect x="346.76" y="272.72" width="4.10" height="2.68" fill="#b9b9b9" stroke="#000" stroke-width="0.9"/>
<line x1="348.81" y1="272.27" x2="348.81" y2="272.72" stroke="#333" stroke-width="0.8"/>
<line x1="347.71" y1="272.27" x2="349.91" y2="272.27" stroke="#333" stroke-width="0.8"/>
<rect x="350.86" y="273.17" width="4.10" height="2.23" fill="#000" stroke="#000" stroke-width="0.9"/>
<rect x="354.96" y="272.27" width="4.10" height="3.13" fill="#fff" stroke="#000" stroke-width="0.9"/>
<rect x="359.06" y="272.27" width="4.10" height="3.13" fill="#f4f4f4" stroke="#222" stroke-width="0.9"/>
<rect x="363.16" y="274.51" width="4.10" height="0.89" fill="#9a9a9a" stroke="#000" stroke-width="0.9"/>
<rect x="372.84" y="274.06" width="4.10" height="1.34" fill="#b9b9b9" stroke="#000" stroke-width="0.9"/>
<line x1="374.89" y1="273.52" x2="374.89" y2="274.06" stroke="#333" stroke-width="0.8"/>
<line x1="373.79" y1="273.52" x2="375.99" y2="273.52" stroke="#333" stroke-width="0.8"/>
<rect x="376.94" y="273.79" width="4.10" height="1.61" fill="#000" stroke="#000" stroke-width="0.9"/>
<rect x="381.04" y="274.06" width="4.10" height="1.34" fill="#fff" stroke="#000" stroke-width="0.9"/>
<rect x="385.14" y="274.33" width="4.10" height="1.07" fill="#f4f4f4" stroke="#222" stroke-width="0.9"/>
<line x1="389.24" y1="274.90" x2="393.34" y2="274.90" stroke="#444" stroke-width="0.9"/>
<rect x="398.92" y="230.30" width="4.10" height="45.10" fill="#b9b9b9" stroke="#000" stroke-width="0.9"/>
<line x1="400.97" y1="219.14" x2="400.97" y2="230.30" stroke="#333" stroke-width="0.8"/>
<line x1="399.87" y1="219.14" x2="402.07" y2="219.14" stroke="#333" stroke-width="0.8"/>
<rect x="403.02" y="247.72" width="4.10" height="27.68" fill="#000" stroke="#000" stroke-width="0.9"/>
<line x1="405.07" y1="237.89" x2="405.07" y2="247.72" stroke="#333" stroke-width="0.8"/>
<line x1="403.97" y1="237.89" x2="406.17" y2="237.89" stroke="#333" stroke-width="0.8"/>
<rect x="407.12" y="227.18" width="4.10" height="48.22" fill="#fff" stroke="#000" stroke-width="0.9"/>
<line x1="409.17" y1="206.64" x2="409.17" y2="227.18" stroke="#333" stroke-width="0.8"/>
<line x1="408.07" y1="206.64" x2="410.27" y2="206.64" stroke="#333" stroke-width="0.8"/>
<rect x="411.22" y="253.52" width="4.10" height="21.88" fill="#f4f4f4" stroke="#222" stroke-width="0.9"/>
<line x1="415.32" y1="274.90" x2="419.42" y2="274.90" stroke="#444" stroke-width="0.9"/>
<rect x="425.00" y="254.24" width="4.10" height="21.16" fill="#b9b9b9" stroke="#000" stroke-width="0.9"/>
<line x1="427.05" y1="251.11" x2="427.05" y2="254.24" stroke="#333" stroke-width="0.8"/>
<line x1="425.95" y1="251.11" x2="428.15" y2="251.11" stroke="#333" stroke-width="0.8"/>
<rect x="429.10" y="262.00" width="4.10" height="13.39" fill="#000" stroke="#000" stroke-width="0.9"/>
<line x1="431.15" y1="255.31" x2="431.15" y2="262.00" stroke="#333" stroke-width="0.8"/>
<line x1="430.05" y1="255.31" x2="432.25" y2="255.31" stroke="#333" stroke-width="0.8"/>
<rect x="433.20" y="254.24" width="4.10" height="21.16" fill="#fff" stroke="#000" stroke-width="0.9"/>
<line x1="435.25" y1="250.22" x2="435.25" y2="254.24" stroke="#333" stroke-width="0.8"/>
<line x1="434.15" y1="250.22" x2="436.35" y2="250.22" stroke="#333" stroke-width="0.8"/>
<rect x="437.30" y="263.17" width="4.10" height="12.23" fill="#f4f4f4" stroke="#222" stroke-width="0.9"/>
<line x1="439.35" y1="262.27" x2="439.35" y2="263.17" stroke="#333" stroke-width="0.8"/>
<line x1="438.25" y1="262.27" x2="440.45" y2="262.27" stroke="#333" stroke-width="0.8"/>
<line x1="441.40" y1="274.90" x2="445.50" y2="274.90" stroke="#444" stroke-width="0.9"/>
<rect x="451.08" y="273.61" width="4.10" height="1.79" fill="#b9b9b9" stroke="#000" stroke-width="0.9"/>
<line x1="453.13" y1="273.26" x2="453.13" y2="273.61" stroke="#333" stroke-width="0.8"/>
<line x1="452.03" y1="273.26" x2="454.23" y2="273.26" stroke="#333" stroke-width="0.8"/>
<rect x="455.18" y="274.33" width="4.10" height="1.07" fill="#000" stroke="#000" stroke-width="0.9"/>
<rect x="459.28" y="272.72" width="4.10" height="2.68" fill="#fff" stroke="#000" stroke-width="0.9"/>
<rect x="463.38" y="272.72" width="4.10" height="2.68" fill="#f4f4f4" stroke="#222" stroke-width="0.9"/>
<line x1="467.48" y1="274.90" x2="471.58" y2="274.90" stroke="#444" stroke-width="0.9"/>
<rect x="477.16" y="274.33" width="4.10" height="1.07" fill="#b9b9b9" stroke="#000" stroke-width="0.9"/>
<rect x="481.26" y="273.97" width="4.10" height="1.43" fill="#000" stroke="#000" stroke-width="0.9"/>
<line x1="483.31" y1="273.52" x2="483.31" y2="273.97" stroke="#333" stroke-width="0.8"/>
<line x1="482.21" y1="273.52" x2="484.41" y2="273.52" stroke="#333" stroke-width="0.8"/>
<rect x="485.36" y="274.33" width="4.10" height="1.07" fill="#fff" stroke="#000" stroke-width="0.9"/>
<rect x="489.46" y="274.33" width="4.10" height="1.07" fill="#f4f4f4" stroke="#222" stroke-width="0.9"/>
<line x1="493.56" y1="274.90" x2="497.66" y2="274.90" stroke="#444" stroke-width="0.9"/>
<line x1="317.48" y1="275.40" x2="317.48" y2="290.00" stroke="#a6a6a6" stroke-width="1.1"/>
<line x1="343.56" y1="275.40" x2="343.56" y2="302.50" stroke="#a6a6a6" stroke-width="1.1"/>
<line x1="369.64" y1="275.40" x2="369.64" y2="290.00" stroke="#a6a6a6" stroke-width="1.1"/>
<line x1="395.72" y1="275.40" x2="395.72" y2="302.50" stroke="#a6a6a6" stroke-width="1.1"/>
<line x1="421.80" y1="275.40" x2="421.80" y2="290.00" stroke="#a6a6a6" stroke-width="1.1"/>
<line x1="447.88" y1="275.40" x2="447.88" y2="302.50" stroke="#a6a6a6" stroke-width="1.1"/>
<line x1="473.96" y1="275.40" x2="473.96" y2="290.00" stroke="#a6a6a6" stroke-width="1.1"/>
<text x="304.74" y="287.50" font-size="7.8" text-anchor="middle" font-weight="normal" fill="#000" stroke="#000" stroke-width="0.5">WT</text>
<text x="330.82" y="287.50" font-size="7.8" text-anchor="middle" font-weight="normal" fill="#000" stroke="#000" stroke-width="0.5">KD</text>
<text x="356.90" y="287.50" font-size="7.8" text-anchor="middle" font-weight="normal" fill="#000" stroke="#000" stroke-width="0.5">WT</text>
<text x="382.98" y="287.50" font-size="7.8" text-anchor="middle" font-weight="normal" fill="#000" stroke="#000" stroke-width="0.5">KD</text>
<text x="409.06" y="287.50" font-size="7.8" text-anchor="middle" font-weight="normal" fill="#000" stroke="#000" stroke-width="0.5">WT</text>
<text x="435.14" y="287.50" font-size="7.8" text-anchor="middle" font-weight="normal" fill="#000" stroke="#000" stroke-width="0.5">KD</text>
<text x="461.22" y="287.50" font-size="7.8" text-anchor="middle" font-weight="normal" fill="#000" stroke="#000" stroke-width="0.5">WT</text>
<text x="487.30" y="287.50" font-size="7.8" text-anchor="middle" font-weight="normal" fill="#000" stroke="#000" stroke-width="0.5">KD</text>
<text x="317.48" y="301.50" font-size="7.8" text-anchor="middle" font-weight="normal" fill="#000" stroke="#000" stroke-width="0.55">εy Pro</text>
<text x="369.64" y="301.50" font-size="7.8" text-anchor="middle" font-weight="normal" fill="#000" stroke="#000" stroke-width="0.55">βH1 Pro</text>
<text x="421.80" y="301.50" font-size="7.8" text-anchor="middle" font-weight="normal" fill="#000" stroke="#000" stroke-width="0.55">βMaj Pro</text>
<text x="476.96" y="301.50" font-size="7.8" text-anchor="middle" font-weight="normal" fill="#000" stroke="#000" stroke-width="0.55">necdin</text>
<rect x="462.60" y="187.70" width="8.60" height="7.00" fill="#c6c6c6" stroke="#222" stroke-width="1.1"/>
<text x="475.40" y="193.30" font-size="7.6" text-anchor="start" font-weight="normal" fill="#000" stroke="#000" stroke-width="0.5">Ldb1</text>
<rect x="462.60" y="197.57" width="8.60" height="7.00" fill="#000" stroke="#000" stroke-width="1.1"/>
<text x="475.40" y="203.30" font-size="7.6" text-anchor="start" font-weight="normal" fill="#000" stroke="#000" stroke-width="0.5">GATA1</text>
<rect x="462.60" y="207.44" width="8.60" height="7.00" fill="#fff" stroke="#222" stroke-width="1.1"/>
<text x="475.40" y="213.30" font-size="7.6" text-anchor="start" font-weight="normal" fill="#000" stroke="#000" stroke-width="0.5">LMO2</text>
<rect x="462.60" y="217.31" width="8.60" height="7.00" fill="#ececec" stroke="#333" stroke-width="1.1"/>
<text x="475.40" y="223.30" font-size="7.6" text-anchor="start" font-weight="normal" fill="#000" stroke="#000" stroke-width="0.5">SCL</text>
<rect x="462.60" y="227.18" width="8.60" height="7.00" fill="#a0a0a0" stroke="#222" stroke-width="1.1"/>
<text x="476.90" y="233.30" font-size="7.6" text-anchor="start" font-weight="normal" fill="#000" stroke="#000" stroke-width="0.5">IgG</text>
<line x1="41.50" y1="327.00" x2="41.50" y2="427.00" stroke="#8a8a8a" stroke-width="0.8"/>
<line x1="41.50" y1="427.00" x2="255.50" y2="427.00" stroke="#8a8a8a" stroke-width="0.8"/>
<text x="38.30" y="429.60" font-size="7.4" text-anchor="end" font-weight="bold" fill="#000" stroke="#000" stroke-width="0.25">0</text>
<text x="38.30" y="413.10" font-size="7.4" text-anchor="end" font-weight="bold" fill="#000" stroke="#000" stroke-width="0.25">0.1</text>
<text x="38.30" y="396.60" font-size="7.4" text-anchor="end" font-weight="bold" fill="#000" stroke="#000" stroke-width="0.25">0.2</text>
<text x="38.30" y="380.10" font-size="7.4" text-anchor="end" font-weight="bold" fill="#000" stroke="#000" stroke-width="0.25">0.3</text>
<text x="38.30" y="363.60" font-size="7.4" text-anchor="end" font-weight="bold" fill="#000" stroke="#000" stroke-width="0.25">0.4</text>
<text x="38.30" y="347.10" font-size="7.4" text-anchor="end" font-weight="bold" fill="#000" stroke="#000" stroke-width="0.25">0.5</text>
<text x="38.30" y="330.60" font-size="7.4" text-anchor="end" font-weight="bold" fill="#000" stroke="#000" stroke-width="0.25">0.6</text>
<text x="19.30" y="376.00" font-size="12.5" text-anchor="middle" font-weight="normal" fill="#000" stroke="#000" stroke-width="0.5" transform="rotate(-90 19.30 376.00)">Enrichment</text>
<rect x="44.40" y="402.25" width="4.40" height="24.75" fill="#bcbcbc" stroke="#000" stroke-width="0.9"/>
<line x1="46.60" y1="398.12" x2="46.60" y2="402.25" stroke="#333" stroke-width="1.0"/>
<line x1="45.10" y1="398.12" x2="48.10" y2="398.12" stroke="#333" stroke-width="1.0"/>
<rect x="48.80" y="418.25" width="4.40" height="8.75" fill="#000" stroke="#000" stroke-width="0.9"/>
<line x1="51.00" y1="415.29" x2="51.00" y2="418.25" stroke="#333" stroke-width="1.0"/>
<line x1="49.50" y1="415.29" x2="52.50" y2="415.29" stroke="#333" stroke-width="1.0"/>
<rect x="53.20" y="424.52" width="4.40" height="2.48" fill="#fff" stroke="#000" stroke-width="0.9"/>
<line x1="55.40" y1="423.70" x2="55.40" y2="424.52" stroke="#333" stroke-width="1.0"/>
<line x1="53.90" y1="423.70" x2="56.90" y2="423.70" stroke="#333" stroke-width="1.0"/>
<rect x="57.60" y="425.35" width="4.40" height="1.65" fill="#f2f2f2" stroke="#333" stroke-width="0.9"/>
<rect x="65.75" y="412.15" width="4.40" height="14.85" fill="#bcbcbc" stroke="#000" stroke-width="0.9"/>
<line x1="67.95" y1="411.65" x2="67.95" y2="412.15" stroke="#333" stroke-width="1.0"/>
<line x1="66.45" y1="411.65" x2="69.45" y2="411.65" stroke="#333" stroke-width="1.0"/>
<rect x="70.15" y="421.39" width="4.40" height="5.61" fill="#000" stroke="#000" stroke-width="0.9"/>
<rect x="74.55" y="424.52" width="4.40" height="2.48" fill="#fff" stroke="#000" stroke-width="0.9"/>
<line x1="76.75" y1="424.03" x2="76.75" y2="424.52" stroke="#333" stroke-width="1.0"/>
<line x1="75.25" y1="424.03" x2="78.25" y2="424.03" stroke="#333" stroke-width="1.0"/>
<rect x="78.95" y="425.35" width="4.40" height="1.65" fill="#f2f2f2" stroke="#333" stroke-width="0.9"/>
<rect x="87.10" y="402.25" width="4.40" height="24.75" fill="#bcbcbc" stroke="#000" stroke-width="0.9"/>
<line x1="89.30" y1="395.65" x2="89.30" y2="402.25" stroke="#333" stroke-width="1.0"/>
<line x1="87.80" y1="395.65" x2="90.80" y2="395.65" stroke="#333" stroke-width="1.0"/>
<rect x="91.50" y="412.98" width="4.40" height="14.02" fill="#000" stroke="#000" stroke-width="0.9"/>
<line x1="93.70" y1="407.04" x2="93.70" y2="412.98" stroke="#333" stroke-width="1.0"/>
<line x1="92.20" y1="407.04" x2="95.20" y2="407.04" stroke="#333" stroke-width="1.0"/>
<rect x="95.90" y="423.70" width="4.40" height="3.30" fill="#fff" stroke="#000" stroke-width="0.9"/>
<line x1="98.10" y1="422.71" x2="98.10" y2="423.70" stroke="#333" stroke-width="1.0"/>
<line x1="96.60" y1="422.71" x2="99.60" y2="422.71" stroke="#333" stroke-width="1.0"/>
<rect x="100.30" y="426.01" width="4.40" height="0.99" fill="#f2f2f2" stroke="#333" stroke-width="0.9"/>
<rect x="108.45" y="399.28" width="4.40" height="27.72" fill="#bcbcbc" stroke="#000" stroke-width="0.9"/>
<line x1="110.65" y1="390.70" x2="110.65" y2="399.28" stroke="#333" stroke-width="1.0"/>
<line x1="109.15" y1="390.70" x2="112.15" y2="390.70" stroke="#333" stroke-width="1.0"/>
<rect x="112.85" y="412.48" width="4.40" height="14.52" fill="#000" stroke="#000" stroke-width="0.9"/>
<line x1="115.05" y1="408.52" x2="115.05" y2="412.48" stroke="#333" stroke-width="1.0"/>
<line x1="113.55" y1="408.52" x2="116.55" y2="408.52" stroke="#333" stroke-width="1.0"/>
<rect x="117.25" y="424.52" width="4.40" height="2.48" fill="#fff" stroke="#000" stroke-width="0.9"/>
<rect x="121.65" y="425.35" width="4.40" height="1.65" fill="#f2f2f2" stroke="#333" stroke-width="0.9"/>
<rect x="129.80" y="424.03" width="4.40" height="2.97" fill="#bcbcbc" stroke="#000" stroke-width="0.9"/>
<rect x="134.20" y="422.38" width="4.40" height="4.62" fill="#000" stroke="#000" stroke-width="0.9"/>
<line x1="136.40" y1="421.88" x2="136.40" y2="422.38" stroke="#333" stroke-width="1.0"/>
<line x1="134.90" y1="421.88" x2="137.90" y2="421.88" stroke="#333" stroke-width="1.0"/>
<rect x="138.60" y="425.35" width="4.40" height="1.65" fill="#fff" stroke="#000" stroke-width="0.9"/>
<rect x="143.00" y="425.68" width="4.40" height="1.32" fill="#f2f2f2" stroke="#333" stroke-width="0.9"/>
<rect x="151.15" y="424.52" width="4.40" height="2.48" fill="#bcbcbc" stroke="#000" stroke-width="0.9"/>
<rect x="155.55" y="425.02" width="4.40" height="1.98" fill="#000" stroke="#000" stroke-width="0.9"/>
<rect x="159.95" y="425.35" width="4.40" height="1.65" fill="#fff" stroke="#000" stroke-width="0.9"/>
<rect x="164.35" y="425.68" width="4.40" height="1.32" fill="#f2f2f2" stroke="#333" stroke-width="0.9"/>
<rect x="172.50" y="384.43" width="4.40" height="42.57" fill="#bcbcbc" stroke="#000" stroke-width="0.9"/>
<line x1="174.70" y1="383.94" x2="174.70" y2="384.43" stroke="#333" stroke-width="1.0"/>
<line x1="173.20" y1="383.94" x2="176.20" y2="383.94" stroke="#333" stroke-width="1.0"/>
<rect x="176.90" y="418.25" width="4.40" height="8.75" fill="#000" stroke="#000" stroke-width="0.9"/>
<line x1="179.10" y1="413.96" x2="179.10" y2="418.25" stroke="#333" stroke-width="1.0"/>
<line x1="177.60" y1="413.96" x2="180.60" y2="413.96" stroke="#333" stroke-width="1.0"/>
<rect x="181.30" y="425.02" width="4.40" height="1.98" fill="#fff" stroke="#000" stroke-width="0.9"/>
<rect x="185.70" y="425.35" width="4.40" height="1.65" fill="#f2f2f2" stroke="#333" stroke-width="0.9"/>
<rect x="193.85" y="361.33" width="4.40" height="65.67" fill="#bcbcbc" stroke="#000" stroke-width="0.9"/>
<line x1="196.05" y1="357.70" x2="196.05" y2="361.33" stroke="#333" stroke-width="1.0"/>
<line x1="194.55" y1="357.70" x2="197.55" y2="357.70" stroke="#333" stroke-width="1.0"/>
<rect x="198.25" y="409.01" width="4.40" height="17.99" fill="#000" stroke="#000" stroke-width="0.9"/>
<line x1="200.45" y1="398.62" x2="200.45" y2="409.01" stroke="#333" stroke-width="1.0"/>
<line x1="198.95" y1="398.62" x2="201.95" y2="398.62" stroke="#333" stroke-width="1.0"/>
<rect x="202.65" y="425.02" width="4.40" height="1.98" fill="#fff" stroke="#000" stroke-width="0.9"/>
<rect x="207.05" y="425.68" width="4.40" height="1.32" fill="#f2f2f2" stroke="#333" stroke-width="0.9"/>
<rect x="215.20" y="358.52" width="4.40" height="68.48" fill="#bcbcbc" stroke="#000" stroke-width="0.9"/>
<line x1="217.40" y1="340.70" x2="217.40" y2="358.52" stroke="#333" stroke-width="1.0"/>
<line x1="215.90" y1="340.70" x2="218.90" y2="340.70" stroke="#333" stroke-width="1.0"/>
<rect x="219.60" y="407.86" width="4.40" height="19.14" fill="#000" stroke="#000" stroke-width="0.9"/>
<line x1="221.80" y1="397.80" x2="221.80" y2="407.86" stroke="#333" stroke-width="1.0"/>
<line x1="220.30" y1="397.80" x2="223.30" y2="397.80" stroke="#333" stroke-width="1.0"/>
<rect x="224.00" y="425.35" width="4.40" height="1.65" fill="#fff" stroke="#000" stroke-width="0.9"/>
<rect x="228.40" y="425.35" width="4.40" height="1.65" fill="#f2f2f2" stroke="#333" stroke-width="0.9"/>
<rect x="236.55" y="423.70" width="4.40" height="3.30" fill="#bcbcbc" stroke="#000" stroke-width="0.9"/>
<line x1="238.75" y1="423.20" x2="238.75" y2="423.70" stroke="#333" stroke-width="1.0"/>
<line x1="237.25" y1="423.20" x2="240.25" y2="423.20" stroke="#333" stroke-width="1.0"/>
<rect x="240.95" y="424.52" width="4.40" height="2.48" fill="#000" stroke="#000" stroke-width="0.9"/>
<rect x="245.35" y="425.68" width="4.40" height="1.32" fill="#fff" stroke="#000" stroke-width="0.9"/>
<rect x="249.75" y="425.35" width="4.40" height="1.65" fill="#f2f2f2" stroke="#333" stroke-width="0.9"/>
<line x1="251.95" y1="424.86" x2="251.95" y2="425.35" stroke="#333" stroke-width="1.0"/>
<line x1="250.45" y1="424.86" x2="253.45" y2="424.86" stroke="#333" stroke-width="1.0"/>
<text x="52.30" y="439.60" font-size="7.6" text-anchor="middle" font-weight="normal" fill="#000" stroke="#000" stroke-width="0.5">HS4</text>
<text x="74.00" y="439.60" font-size="7.6" text-anchor="middle" font-weight="normal" fill="#000" stroke="#000" stroke-width="0.5">HS3</text>
<text x="95.50" y="439.60" font-size="7.6" text-anchor="middle" font-weight="normal" fill="#000" stroke="#000" stroke-width="0.5">HS2</text>
<text x="117.00" y="439.60" font-size="7.6" text-anchor="middle" font-weight="normal" fill="#000" stroke="#000" stroke-width="0.5">HS1</text>
<text x="132.50" y="439.60" font-size="7.6" text-anchor="start" font-weight="normal" fill="#000" stroke="#000" stroke-width="0.5">εy</text>
<text x="132.50" y="448.00" font-size="7.6" text-anchor="start" font-weight="normal" fill="#000" stroke="#000" stroke-width="0.5">Pro</text>
<text x="151.20" y="439.60" font-size="7.6" text-anchor="start" font-weight="normal" fill="#000" stroke="#000" stroke-width="0.5">βH1</text>
<text x="151.20" y="448.00" font-size="7.6" text-anchor="start" font-weight="normal" fill="#000" stroke="#000" stroke-width="0.5">Pro</text>
<text x="172.00" y="439.60" font-size="7.6" text-anchor="start" font-weight="normal" fill="#000" stroke="#000" stroke-width="0.5">βMaj</text>
<text x="172.00" y="448.00" font-size="7.6" text-anchor="start" font-weight="normal" fill="#000" stroke="#000" stroke-width="0.5">Pro</text>
<text x="194.20" y="439.60" font-size="7.6" text-anchor="start" font-weight="normal" fill="#000" stroke="#000" stroke-width="0.5">βMaj</text>
<text x="194.20" y="448.00" font-size="7.6" text-anchor="start" font-weight="normal" fill="#000" stroke="#000" stroke-width="0.5">start</text>
<text x="214.50" y="439.60" font-size="7.6" text-anchor="start" font-weight="normal" fill="#000" stroke="#000" stroke-width="0.5">βMaj</text>
<text x="214.50" y="448.00" font-size="7.6" text-anchor="start" font-weight="normal" fill="#000" stroke="#000" stroke-width="0.5">Ex2</text>
<text x="233.60" y="439.60" font-size="7.6" text-anchor="start" font-weight="normal" fill="#000" stroke="#000" stroke-width="0.5">Necdin</text>
<rect x="116.50" y="328.50" width="8.00" height="7.40" fill="#c2c2c2" stroke="#222" stroke-width="1.1"/>
<text x="128.60" y="334.90" font-size="7.6" text-anchor="start" font-weight="normal" fill="#000" stroke="#000" stroke-width="0.5">Ctrl Ser2</text>
<rect x="116.50" y="338.10" width="8.00" height="7.40" fill="#000" stroke="#000" stroke-width="1.1"/>
<text x="128.60" y="344.50" font-size="7.6" text-anchor="start" font-weight="normal" fill="#000" stroke="#000" stroke-width="0.5">KD Ser2</text>
<rect x="116.50" y="347.70" width="8.00" height="7.40" fill="#fff" stroke="#222" stroke-width="1.1"/>
<text x="128.60" y="354.10" font-size="7.6" text-anchor="start" font-weight="normal" fill="#000" stroke="#000" stroke-width="0.5">Ctrl IgG</text>
<rect x="116.50" y="357.30" width="8.00" height="7.40" fill="#eee" stroke="#333" stroke-width="1.1"/>
<text x="128.60" y="363.70" font-size="7.6" text-anchor="start" font-weight="normal" fill="#000" stroke="#000" stroke-width="0.5">KD IgG</text>
<line x1="297.00" y1="327.00" x2="297.00" y2="427.50" stroke="#8a8a8a" stroke-width="0.8"/>
<line x1="297.00" y1="427.50" x2="505.20" y2="427.50" stroke="#8a8a8a" stroke-width="0.8"/>
<text x="292.20" y="430.10" font-size="7.4" text-anchor="end" font-weight="bold" fill="#000" stroke="#000" stroke-width="0.25">0</text>
<text x="292.20" y="410.20" font-size="7.4" text-anchor="end" font-weight="bold" fill="#000" stroke="#000" stroke-width="0.25">0.1</text>
<text x="292.20" y="390.30" font-size="7.4" text-anchor="end" font-weight="bold" fill="#000" stroke="#000" stroke-width="0.25">0.2</text>
<text x="292.20" y="370.40" font-size="7.4" text-anchor="end" font-weight="bold" fill="#000" stroke="#000" stroke-width="0.25">0.3</text>
<text x="292.20" y="350.50" font-size="7.4" text-anchor="end" font-weight="bold" fill="#000" stroke="#000" stroke-width="0.25">0.4</text>
<text x="292.20" y="330.60" font-size="7.4" text-anchor="end" font-weight="bold" fill="#000" stroke="#000" stroke-width="0.25">0.5</text>
<text x="270.50" y="377.50" font-size="12.5" text-anchor="middle" font-weight="normal" fill="#000" stroke="#000" stroke-width="0.5" transform="rotate(-90 270.50 377.50)">Enrichment</text>
<rect x="299.20" y="367.80" width="4.40" height="59.70" fill="#bcbcbc" stroke="#000" stroke-width="0.9"/>
<line x1="301.40" y1="348.50" x2="301.40" y2="367.80" stroke="#333" stroke-width="1.0"/>
<line x1="299.90" y1="348.50" x2="302.90" y2="348.50" stroke="#333" stroke-width="1.0"/>
<rect x="303.60" y="406.01" width="4.40" height="21.49" fill="#000" stroke="#000" stroke-width="0.9"/>
<line x1="305.80" y1="404.02" x2="305.80" y2="406.01" stroke="#333" stroke-width="1.0"/>
<line x1="304.30" y1="404.02" x2="307.30" y2="404.02" stroke="#333" stroke-width="1.0"/>
<rect x="308.00" y="423.92" width="4.40" height="3.58" fill="#fff" stroke="#000" stroke-width="0.9"/>
<line x1="310.20" y1="422.33" x2="310.20" y2="423.92" stroke="#333" stroke-width="1.0"/>
<line x1="308.70" y1="422.33" x2="311.70" y2="422.33" stroke="#333" stroke-width="1.0"/>
<rect x="312.40" y="425.51" width="4.40" height="1.99" fill="#f2f2f2" stroke="#333" stroke-width="0.9"/>
<rect x="320.05" y="377.15" width="4.40" height="50.35" fill="#bcbcbc" stroke="#000" stroke-width="0.9"/>
<line x1="322.25" y1="362.43" x2="322.25" y2="377.15" stroke="#333" stroke-width="1.0"/>
<line x1="320.75" y1="362.43" x2="323.75" y2="362.43" stroke="#333" stroke-width="1.0"/>
<rect x="324.45" y="417.75" width="4.40" height="9.75" fill="#000" stroke="#000" stroke-width="0.9"/>
<rect x="328.85" y="424.51" width="4.40" height="2.99" fill="#fff" stroke="#000" stroke-width="0.9"/>
<line x1="331.05" y1="423.52" x2="331.05" y2="424.51" stroke="#333" stroke-width="1.0"/>
<line x1="329.55" y1="423.52" x2="332.55" y2="423.52" stroke="#333" stroke-width="1.0"/>
<rect x="333.25" y="425.91" width="4.40" height="1.59" fill="#f2f2f2" stroke="#333" stroke-width="0.9"/>
<rect x="340.90" y="382.92" width="4.40" height="44.58" fill="#bcbcbc" stroke="#000" stroke-width="0.9"/>
<line x1="343.10" y1="370.98" x2="343.10" y2="382.92" stroke="#333" stroke-width="1.0"/>
<line x1="341.60" y1="370.98" x2="344.60" y2="370.98" stroke="#333" stroke-width="1.0"/>
<rect x="345.30" y="409.99" width="4.40" height="17.51" fill="#000" stroke="#000" stroke-width="0.9"/>
<line x1="347.50" y1="408.40" x2="347.50" y2="409.99" stroke="#333" stroke-width="1.0"/>
<line x1="346.00" y1="408.40" x2="349.00" y2="408.40" stroke="#333" stroke-width="1.0"/>
<rect x="349.70" y="423.92" width="4.40" height="3.58" fill="#fff" stroke="#000" stroke-width="0.9"/>
<line x1="351.90" y1="422.72" x2="351.90" y2="423.92" stroke="#333" stroke-width="1.0"/>
<line x1="350.40" y1="422.72" x2="353.40" y2="422.72" stroke="#333" stroke-width="1.0"/>
<rect x="354.10" y="426.50" width="4.40" height="1.00" fill="#f2f2f2" stroke="#333" stroke-width="0.9"/>
<rect x="361.75" y="380.74" width="4.40" height="46.76" fill="#bcbcbc" stroke="#000" stroke-width="0.9"/>
<line x1="363.95" y1="367.00" x2="363.95" y2="380.74" stroke="#333" stroke-width="1.0"/>
<line x1="362.45" y1="367.00" x2="365.45" y2="367.00" stroke="#333" stroke-width="1.0"/>
<rect x="366.15" y="413.57" width="4.40" height="13.93" fill="#000" stroke="#000" stroke-width="0.9"/>
<line x1="368.35" y1="407.60" x2="368.35" y2="413.57" stroke="#333" stroke-width="1.0"/>
<line x1="366.85" y1="407.60" x2="369.85" y2="407.60" stroke="#333" stroke-width="1.0"/>
<rect x="370.55" y="425.11" width="4.40" height="2.39" fill="#fff" stroke="#000" stroke-width="0.9"/>
<line x1="372.75" y1="424.32" x2="372.75" y2="425.11" stroke="#333" stroke-width="1.0"/>
<line x1="371.25" y1="424.32" x2="374.25" y2="424.32" stroke="#333" stroke-width="1.0"/>
<rect x="374.95" y="425.91" width="4.40" height="1.59" fill="#f2f2f2" stroke="#333" stroke-width="0.9"/>
<rect x="382.60" y="423.52" width="4.40" height="3.98" fill="#bcbcbc" stroke="#000" stroke-width="0.9"/>
<rect x="387.00" y="423.92" width="4.40" height="3.58" fill="#000" stroke="#000" stroke-width="0.9"/>
<rect x="391.40" y="425.91" width="4.40" height="1.59" fill="#fff" stroke="#000" stroke-width="0.9"/>
<rect x="395.80" y="426.50" width="4.40" height="1.00" fill="#f2f2f2" stroke="#333" stroke-width="0.9"/>
<rect x="403.45" y="423.12" width="4.40" height="4.38" fill="#bcbcbc" stroke="#000" stroke-width="0.9"/>
<rect x="407.85" y="425.11" width="4.40" height="2.39" fill="#000" stroke="#000" stroke-width="0.9"/>
<line x1="410.05" y1="424.12" x2="410.05" y2="425.11" stroke="#333" stroke-width="1.0"/>
<line x1="408.55" y1="424.12" x2="411.55" y2="424.12" stroke="#333" stroke-width="1.0"/>
<rect x="412.25" y="425.51" width="4.40" height="1.99" fill="#fff" stroke="#000" stroke-width="0.9"/>
<rect x="416.65" y="426.50" width="4.40" height="1.00" fill="#f2f2f2" stroke="#333" stroke-width="0.9"/>
<rect x="424.30" y="405.41" width="4.40" height="22.09" fill="#bcbcbc" stroke="#000" stroke-width="0.9"/>
<line x1="426.50" y1="396.26" x2="426.50" y2="405.41" stroke="#333" stroke-width="1.0"/>
<line x1="425.00" y1="396.26" x2="428.00" y2="396.26" stroke="#333" stroke-width="1.0"/>
<rect x="428.70" y="416.95" width="4.40" height="10.55" fill="#000" stroke="#000" stroke-width="0.9"/>
<line x1="430.90" y1="411.58" x2="430.90" y2="416.95" stroke="#333" stroke-width="1.0"/>
<line x1="429.40" y1="411.58" x2="432.40" y2="411.58" stroke="#333" stroke-width="1.0"/>
<rect x="433.10" y="425.51" width="4.40" height="1.99" fill="#fff" stroke="#000" stroke-width="0.9"/>
<line x1="435.30" y1="424.71" x2="435.30" y2="425.51" stroke="#333" stroke-width="1.0"/>
<line x1="433.80" y1="424.71" x2="436.80" y2="424.71" stroke="#333" stroke-width="1.0"/>
<rect x="437.50" y="425.91" width="4.40" height="1.59" fill="#f2f2f2" stroke="#333" stroke-width="0.9"/>
<rect x="445.15" y="407.80" width="4.40" height="19.70" fill="#bcbcbc" stroke="#000" stroke-width="0.9"/>
<line x1="447.35" y1="398.64" x2="447.35" y2="407.80" stroke="#333" stroke-width="1.0"/>
<line x1="445.85" y1="398.64" x2="448.85" y2="398.64" stroke="#333" stroke-width="1.0"/>
<rect x="449.55" y="423.92" width="4.40" height="3.58" fill="#000" stroke="#000" stroke-width="0.9"/>
<line x1="451.75" y1="423.12" x2="451.75" y2="423.92" stroke="#333" stroke-width="1.0"/>
<line x1="450.25" y1="423.12" x2="453.25" y2="423.12" stroke="#333" stroke-width="1.0"/>
<rect x="453.95" y="425.11" width="4.40" height="2.39" fill="#fff" stroke="#000" stroke-width="0.9"/>
<line x1="456.15" y1="424.51" x2="456.15" y2="425.11" stroke="#333" stroke-width="1.0"/>
<line x1="454.65" y1="424.51" x2="457.65" y2="424.51" stroke="#333" stroke-width="1.0"/>
<rect x="458.35" y="425.91" width="4.40" height="1.59" fill="#f2f2f2" stroke="#333" stroke-width="0.9"/>
<rect x="466.00" y="404.81" width="4.40" height="22.69" fill="#bcbcbc" stroke="#000" stroke-width="0.9"/>
<line x1="468.20" y1="400.83" x2="468.20" y2="404.81" stroke="#333" stroke-width="1.0"/>
<line x1="466.70" y1="400.83" x2="469.70" y2="400.83" stroke="#333" stroke-width="1.0"/>
<rect x="470.40" y="421.53" width="4.40" height="5.97" fill="#000" stroke="#000" stroke-width="0.9"/>
<line x1="472.60" y1="419.14" x2="472.60" y2="421.53" stroke="#333" stroke-width="1.0"/>
<line x1="471.10" y1="419.14" x2="474.10" y2="419.14" stroke="#333" stroke-width="1.0"/>
<rect x="474.80" y="425.91" width="4.40" height="1.59" fill="#fff" stroke="#000" stroke-width="0.9"/>
<rect x="479.20" y="425.91" width="4.40" height="1.59" fill="#f2f2f2" stroke="#333" stroke-width="0.9"/>
<rect x="486.85" y="423.52" width="4.40" height="3.98" fill="#bcbcbc" stroke="#000" stroke-width="0.9"/>
<line x1="489.05" y1="422.92" x2="489.05" y2="423.52" stroke="#333" stroke-width="1.0"/>
<line x1="487.55" y1="422.92" x2="490.55" y2="422.92" stroke="#333" stroke-width="1.0"/>
<rect x="491.25" y="424.51" width="4.40" height="2.99" fill="#000" stroke="#000" stroke-width="0.9"/>
<rect x="495.65" y="426.50" width="4.40" height="1.00" fill="#fff" stroke="#000" stroke-width="0.9"/>
<rect x="500.05" y="426.50" width="4.40" height="1.00" fill="#f2f2f2" stroke="#333" stroke-width="0.9"/>
<text x="307.30" y="439.60" font-size="7.6" text-anchor="middle" font-weight="normal" fill="#000" stroke="#000" stroke-width="0.5">HS4</text>
<text x="327.40" y="439.60" font-size="7.6" text-anchor="middle" font-weight="normal" fill="#000" stroke="#000" stroke-width="0.5">HS3</text>
<text x="348.40" y="439.60" font-size="7.6" text-anchor="middle" font-weight="normal" fill="#000" stroke="#000" stroke-width="0.5">HS2</text>
<text x="368.80" y="439.60" font-size="7.6" text-anchor="middle" font-weight="normal" fill="#000" stroke="#000" stroke-width="0.5">HS1</text>
<text x="384.50" y="439.60" font-size="7.6" text-anchor="start" font-weight="normal" fill="#000" stroke="#000" stroke-width="0.5">εy</text>
<text x="384.50" y="448.00" font-size="7.6" text-anchor="start" font-weight="normal" fill="#000" stroke="#000" stroke-width="0.5">Pro</text>
<text x="403.00" y="439.60" font-size="7.6" text-anchor="start" font-weight="normal" fill="#000" stroke="#000" stroke-width="0.5">βH1</text>
<text x="403.00" y="448.00" font-size="7.6" text-anchor="start" font-weight="normal" fill="#000" stroke="#000" stroke-width="0.5">Pro</text>
<text x="423.70" y="439.60" font-size="7.6" text-anchor="start" font-weight="normal" fill="#000" stroke="#000" stroke-width="0.5">βMaj</text>
<text x="423.70" y="448.00" font-size="7.6" text-anchor="start" font-weight="normal" fill="#000" stroke="#000" stroke-width="0.5">Pro</text>
<text x="443.70" y="439.60" font-size="7.6" text-anchor="start" font-weight="normal" fill="#000" stroke="#000" stroke-width="0.5">βMaj</text>
<text x="443.70" y="448.00" font-size="7.6" text-anchor="start" font-weight="normal" fill="#000" stroke="#000" stroke-width="0.5">start</text>
<text x="465.00" y="439.60" font-size="7.6" text-anchor="start" font-weight="normal" fill="#000" stroke="#000" stroke-width="0.5">βMaj</text>
<text x="465.00" y="448.00" font-size="7.6" text-anchor="start" font-weight="normal" fill="#000" stroke="#000" stroke-width="0.5">Ex2</text>
<text x="483.00" y="439.60" font-size="7.6" text-anchor="start" font-weight="normal" fill="#000" stroke="#000" stroke-width="0.5">Necdin</text>
<rect x="379.00" y="331.40" width="8.00" height="7.60" fill="#c2c2c2" stroke="#222" stroke-width="1.1"/>
<text x="391.50" y="337.90" font-size="7.6" text-anchor="start" font-weight="normal" fill="#000" stroke="#000" stroke-width="0.5">Ctrl Cdk9</text>
<rect x="379.00" y="341.45" width="8.00" height="7.60" fill="#000" stroke="#000" stroke-width="1.1"/>
<text x="391.50" y="347.95" font-size="7.6" text-anchor="start" font-weight="normal" fill="#000" stroke="#000" stroke-width="0.5">KD Cdk9</text>
<rect x="379.00" y="351.50" width="8.00" height="7.60" fill="#fff" stroke="#222" stroke-width="1.1"/>
<text x="391.50" y="358.00" font-size="7.6" text-anchor="start" font-weight="normal" fill="#000" stroke="#000" stroke-width="0.5">Ctrl IgG</text>
<rect x="379.00" y="361.55" width="8.00" height="7.60" fill="#eee" stroke="#333" stroke-width="1.1"/>
<text x="391.50" y="368.05" font-size="7.6" text-anchor="start" font-weight="normal" fill="#000" stroke="#000" stroke-width="0.5">KD IgG</text>
</svg>
</body></html>
